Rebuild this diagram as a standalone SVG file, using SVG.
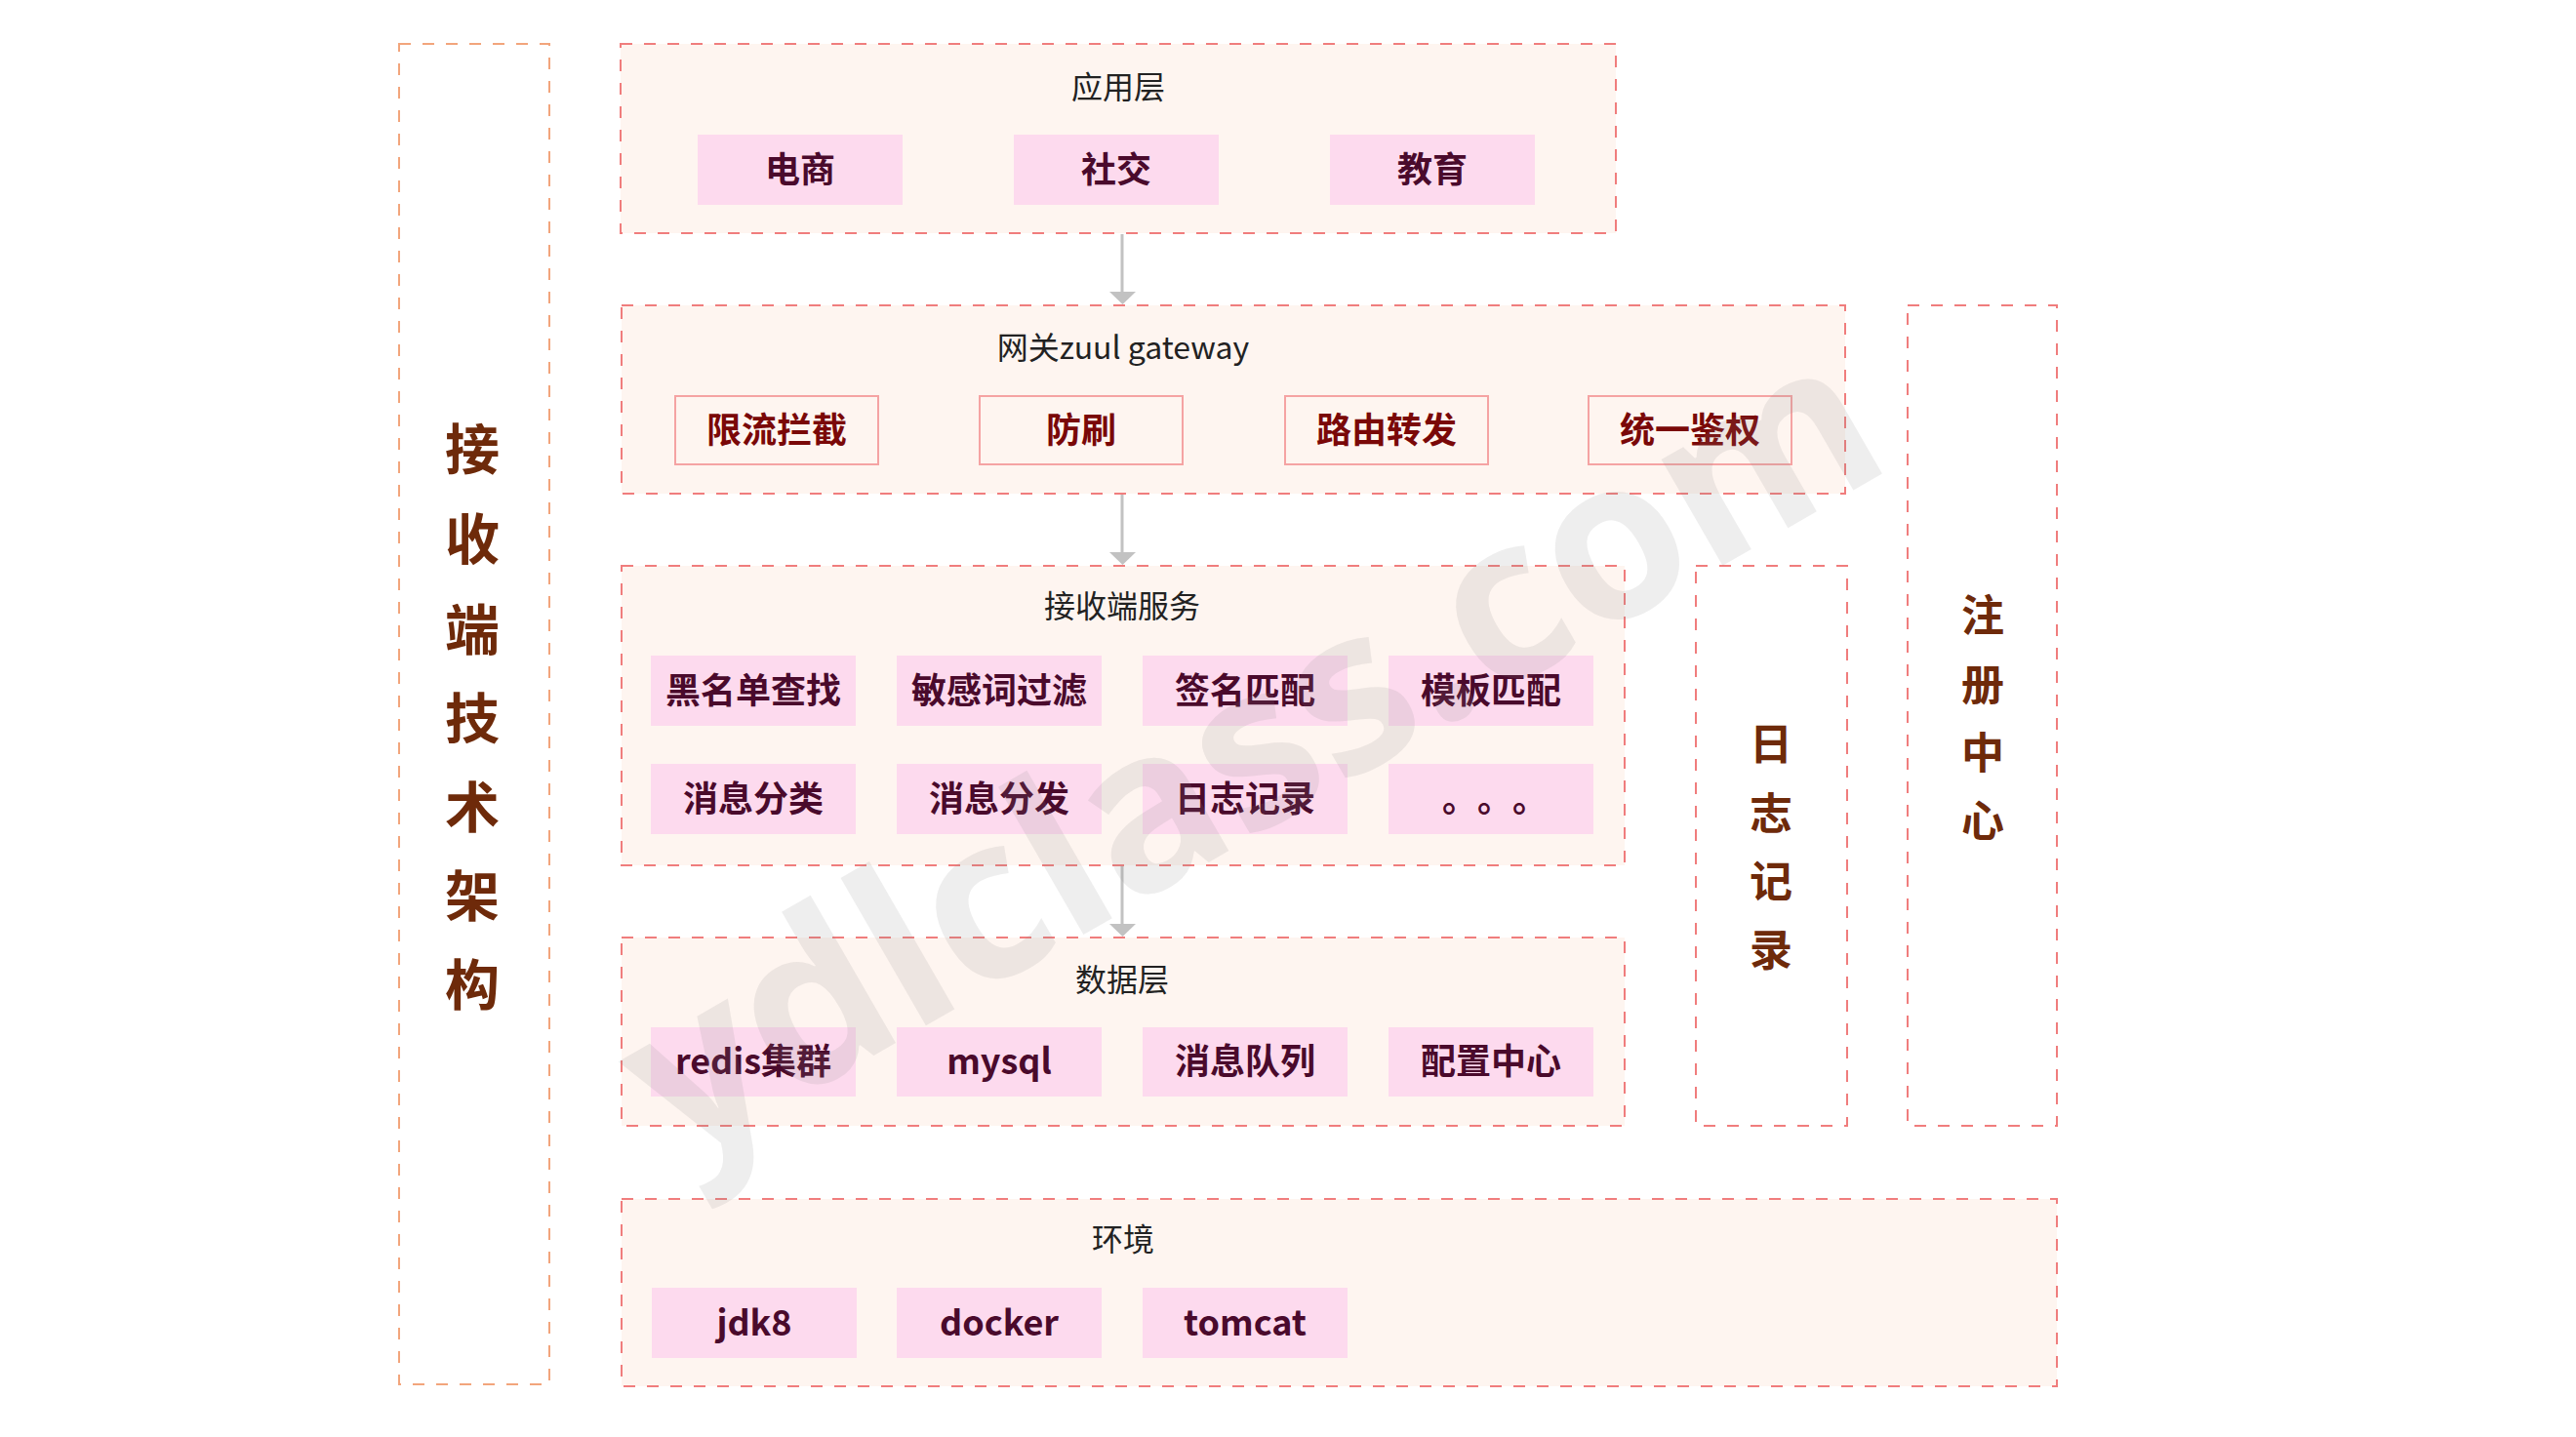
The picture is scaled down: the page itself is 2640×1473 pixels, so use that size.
<svg xmlns="http://www.w3.org/2000/svg" width="2640" height="1473" viewBox="0 0 2640 1473">
<style>
.layer{fill:#fef5f0;stroke:#f07d7d;stroke-width:2;stroke-dasharray:12 12}
.side{fill:#ffffff;stroke:#f07d7d;stroke-width:2;stroke-dasharray:12 12}
.left{fill:#ffffff;stroke:#f2a57c;stroke-width:2;stroke-dasharray:12 12}
.pk{fill:#fddaee}
.gw{fill:#fef5f0;stroke:#f5a3a3;stroke-width:2}
.title{font-family:"Noto Sans CJK SC","Noto Sans",sans-serif;font-size:32px;fill:#222;text-anchor:middle;dominant-baseline:central}
.lbl{font-family:"Noto Sans CJK SC","Noto Sans",sans-serif;font-size:36px;font-weight:bold;fill:#4a0a2c;text-anchor:middle;dominant-baseline:central}
.glbl{font-family:"Noto Sans CJK SC","Noto Sans",sans-serif;font-size:36px;font-weight:bold;fill:#7a0808;text-anchor:middle;dominant-baseline:central}
.vt{font-family:"Noto Sans CJK SC",sans-serif;font-weight:bold;fill:#6e2a0a;text-anchor:middle;dominant-baseline:central}
.wm{font-family:"Open Sans","Liberation Sans",sans-serif;font-weight:bold;font-size:230px;fill:#8a8a8a;fill-opacity:0.14;text-anchor:middle}
.conn line{stroke:#c2c2c2;stroke-width:3}
.conn polygon{fill:#c2c2c2}
</style>

<g id="arch">
<rect class="left" x="409" y="45" width="154" height="1374"/>
<text class="vt" font-size="56"><tspan x="484" y="456">接</tspan><tspan x="484" y="548">收</tspan><tspan x="484" y="641">端</tspan><tspan x="484" y="732">技</tspan><tspan x="484" y="823">术</tspan><tspan x="484" y="914">架</tspan><tspan x="484" y="1005">构</tspan></text>
</g>

<g id="app-layer">
<rect class="layer" x="636" y="45" width="1020" height="194"/>
<text class="title" x="1146" y="87">应用层</text>
<g id="n-ecom"><rect class="pk" x="715" y="138" width="210" height="72"/><text class="lbl" x="820" y="171">电商</text></g>
<g id="n-social"><rect class="pk" x="1039" y="138" width="210" height="72"/><text class="lbl" x="1144" y="171">社交</text></g>
<g id="n-edu"><rect class="pk" x="1363" y="138" width="210" height="72"/><text class="lbl" x="1468" y="171">教育</text></g>
</g>

<g id="gateway-layer">
<rect class="layer" x="637" y="313" width="1254" height="193"/>
<text class="title" x="1151" y="354">网关zuul gateway</text>
<g id="n-limit"><rect class="gw" x="692" y="406" width="208" height="70"/><text class="glbl" x="796" y="438">限流拦截</text></g>
<g id="n-brush"><rect class="gw" x="1004" y="406" width="208" height="70"/><text class="glbl" x="1108" y="438">防刷</text></g>
<g id="n-route"><rect class="gw" x="1317" y="406" width="208" height="70"/><text class="glbl" x="1421" y="438">路由转发</text></g>
<g id="n-auth"><rect class="gw" x="1628" y="406" width="208" height="70"/><text class="glbl" x="1732" y="438">统一鉴权</text></g>
</g>

<g id="recv-layer">
<rect class="layer" x="637" y="580" width="1028" height="307"/>
<text class="title" x="1150" y="619">接收端服务</text>
<g id="n-black"><rect class="pk" x="667" y="672" width="210" height="72"/><text class="lbl" x="772" y="705">黑名单查找</text></g>
<g id="n-sens"><rect class="pk" x="919" y="672" width="210" height="72"/><text class="lbl" x="1024" y="705">敏感词过滤</text></g>
<g id="n-sign"><rect class="pk" x="1171" y="672" width="210" height="72"/><text class="lbl" x="1276" y="705">签名匹配</text></g>
<g id="n-tmpl"><rect class="pk" x="1423" y="672" width="210" height="72"/><text class="lbl" x="1528" y="705">模板匹配</text></g>
<g id="n-cls"><rect class="pk" x="667" y="783" width="210" height="72"/><text class="lbl" x="772" y="816">消息分类</text></g>
<g id="n-dist"><rect class="pk" x="919" y="783" width="210" height="72"/><text class="lbl" x="1024" y="816">消息分发</text></g>
<g id="n-log"><rect class="pk" x="1171" y="783" width="210" height="72"/><text class="lbl" x="1276" y="816">日志记录</text></g>
<g id="n-more"><rect class="pk" x="1423" y="783" width="210" height="72"/><text class="lbl" y="816"><tspan x="1496">。</tspan><tspan x="1532">。</tspan><tspan x="1568">。</tspan></text></g>
</g>

<g id="data-layer">
<rect class="layer" x="637" y="961" width="1028" height="193"/>
<text class="title" x="1150" y="1002">数据层</text>
<g id="n-redis"><rect class="pk" x="667" y="1053" width="210" height="71"/><text class="lbl" x="772" y="1085">redis集群</text></g>
<g id="n-mysql"><rect class="pk" x="919" y="1053" width="210" height="71"/><text class="lbl" x="1024" y="1085">mysql</text></g>
<g id="n-mq"><rect class="pk" x="1171" y="1053" width="210" height="71"/><text class="lbl" x="1276" y="1085">消息队列</text></g>
<g id="n-conf"><rect class="pk" x="1423" y="1053" width="210" height="71"/><text class="lbl" x="1528" y="1085">配置中心</text></g>
</g>

<g id="env-layer">
<rect class="layer" x="637" y="1229" width="1471" height="192"/>
<text class="title" x="1151" y="1268">环境</text>
<g id="n-jdk"><rect class="pk" x="668" y="1320" width="210" height="72"/><text class="lbl" x="773" y="1353">jdk8</text></g>
<g id="n-docker"><rect class="pk" x="919" y="1320" width="210" height="72"/><text class="lbl" x="1024" y="1353">docker</text></g>
<g id="n-tomcat"><rect class="pk" x="1171" y="1320" width="210" height="72"/><text class="lbl" x="1276" y="1353">tomcat</text></g>
</g>

<g id="log-box">
<rect class="side" x="1738" y="580" width="155" height="574"/>
<text class="vt" font-size="44"><tspan x="1815" y="760">日</tspan><tspan x="1815" y="831">志</tspan><tspan x="1815" y="901">记</tspan><tspan x="1815" y="971">录</tspan></text>
</g>

<g id="registry-box">
<rect class="side" x="1955" y="313" width="153" height="841"/>
<text class="vt" font-size="44"><tspan x="2032" y="628">注</tspan><tspan x="2032" y="699">册</tspan><tspan x="2032" y="769">中</tspan><tspan x="2032" y="839">心</tspan></text>
</g>

<g id="connectors" class="conn">
<line x1="1150" y1="240" x2="1150" y2="300"/>
<polygon points="1137,299 1164,299 1150.5,312"/>
<line x1="1150" y1="507" x2="1150" y2="567"/>
<polygon points="1137,566 1164,566 1150.5,579"/>
<line x1="1150" y1="888" x2="1150" y2="948"/>
<polygon points="1137,947 1164,947 1150.5,960"/>
</g>

<text class="wm" transform="translate(1320,837) rotate(-30)" x="0" y="0" textLength="1440" lengthAdjust="spacingAndGlyphs">ydlclass.com</text>
</svg>
